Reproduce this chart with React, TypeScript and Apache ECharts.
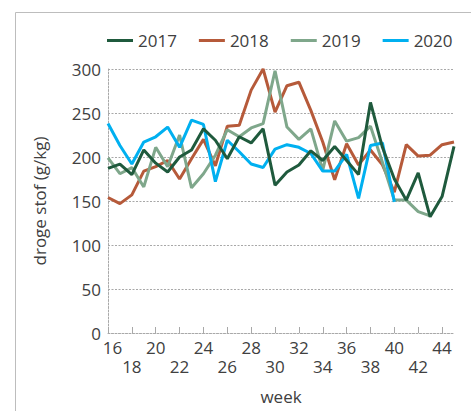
import React, { useEffect, useRef } from "react";
import * as echarts from "echarts";

const weeks = [16,17,18,19,20,21,22,23,24,25,26,27,28,29,30,31,32,33,34,35,36,37,38,39,40,41,42,43,44,45].map(String);
const yTicks = [0, 50, 100, 150, 200, 250, 300];
const seriesNames = ["2017", "2018", "2019", "2020"];
const data2017 = [187,192,180,208,193,183,200,208,232,219,198,223,216,232,168,183,191,207,196,212,196,180,262,211,175,151,182,132,155,212];
const data2018 = [154,147,157,184,189,196,175,198,220,190,235,236,276,300,251,281,285,253,217,174,215,191,208,191,160,214,201,202,214,217];
const data2019 = [199,181,188,166,211,189,225,165,181,202,231,223,233,238,298,234,220,232,185,241,218,222,235,194,151,151,138,133,null,null];
const data2020 = [238,213,192,217,223,234,211,242,237,172,219,206,192,188,209,214,211,204,184,184,203,153,213,216,149,null,null,null,null,null];
const colors = ["#1f5a3d", "#b65a3a", "#7fa78b", "#00b0f0"];

const FONT = "'Open Sans', sans-serif";
const TXT = "#404040";
const GRID = "#a8a8a8";

export default function App() {
  const ref = useRef<HTMLDivElement>(null);
  useEffect(() => {
    if (!ref.current) return;
    const chart = echarts.init(ref.current, undefined, { renderer: "svg" });
    const all = [data2017, data2018, data2019, data2020];
    chart.setOption({
      animation: false,
      textStyle: { fontFamily: FONT },
      graphic: [
        {
          type: "rect",
          shape: { x: 15.5, y: 12.5, width: 600, height: 600 },
          style: { fill: "none", stroke: "#bdbdbd", lineWidth: 1 },
          silent: true,
        },
      ],
      legend: {
        left: 107,
        top: 32,
        width: 420,
        padding: 0,
        icon: "rect",
        itemWidth: 26,
        itemHeight: 3,
        itemGap: 22,
        textStyle: { fontSize: 17, color: TXT, fontFamily: FONT },
        data: seriesNames,
      },
      grid: { left: 108, right: 17, top: 69, bottom: 78 },
      xAxis: {
        type: "category",
        data: weeks,
        boundaryGap: false,
        name: "week",
        nameLocation: "middle",
        nameGap: 55,
        nameTextStyle: { fontSize: 17, color: TXT, fontFamily: FONT },
        axisLine: { lineStyle: { color: GRID, type: [2, 1.5], width: 1 } },
        axisTick: { inside: true, length: 6, interval: 1, lineStyle: { color: GRID } },
        axisLabel: {
          interval: 1,
          fontSize: 17,
          color: TXT,
          fontFamily: FONT,
          margin: 5,
          lineHeight: 19,
          formatter: (v: string, i: number) =>
            i === 0 ? "{first|" + v + "}" : i % 4 === 0 ? v : "\n" + v,
          rich: {
            first: {
              fontSize: 17,
              color: TXT,
              fontFamily: FONT,
              lineHeight: 19,
              padding: [0, 0, 0, 9],
            },
          },
        },
        splitLine: { show: false },
      },
      yAxis: {
        type: "value",
        min: yTicks[0],
        max: yTicks[yTicks.length - 1],
        interval: 50,
        name: "droge stof (g/kg)",
        nameLocation: "middle",
        nameGap: 60,
        nameTextStyle: { fontSize: 17, color: TXT, fontFamily: FONT },
        axisLine: { show: true, lineStyle: { color: GRID, type: [2, 1.5], width: 1 } },
        axisTick: { show: false },
        axisLabel: { fontSize: 17, color: TXT, fontFamily: FONT, margin: 7, lineHeight: 10 },
        splitLine: { lineStyle: { color: GRID, type: [2, 1.5], width: 1 } },
      },
      series: seriesNames.map((n, i) => ({
        name: n,
        type: "line",
        data: all[i],
        symbol: "none",
        showSymbol: false,
        connectNulls: false,
        z: i === 0 ? 6 : 2 + i,
        itemStyle: { color: colors[i] },
        lineStyle: { color: colors[i], width: 3 },
      })),
    });
    return () => chart.dispose();
  }, []);
  return (
    <div
      ref={ref}
      style={{ position: "fixed", left: 0, top: 0, width: 471, height: 411, background: "#fff" }}
    />
  );
}
